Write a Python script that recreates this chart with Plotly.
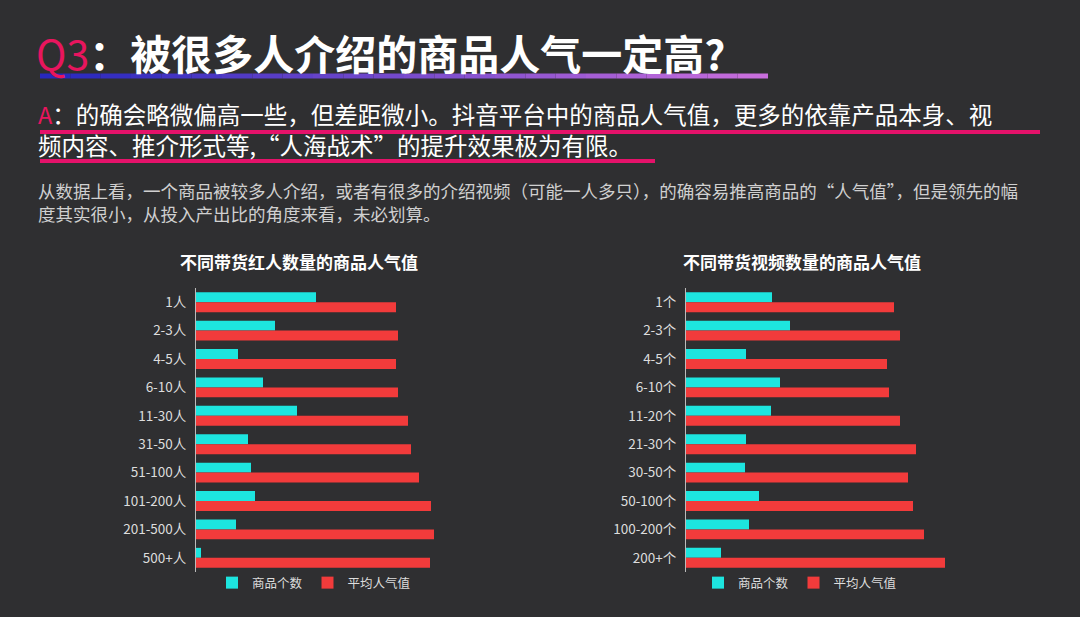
import plotly.graph_objects as go

FONT = "Noto Sans CJK SC"
BG = "#2f2f31"
CYAN = "#1de5df"
RED = "#f23b3b"

left_cats = ["1人", "2-3人", "4-5人", "6-10人", "11-30人", "31-50人",
             "51-100人", "101-200人", "201-500人", "500+人"]
left_count = [120, 79, 42, 67, 101, 52, 55, 59, 40, 5]
left_pop = [200, 202, 200, 202, 212, 215, 223, 235, 238, 234]

right_cats = ["1个", "2-3个", "4-5个", "6-10个", "11-20个", "21-30个",
              "30-50个", "50-100个", "100-200个", "200+个"]
right_count = [86, 104, 60, 94, 85, 60, 59, 73, 63, 35]
right_pop = [208, 214, 201, 203, 214, 230, 222, 227, 238, 259]

W, H = 1080, 617
fig = go.Figure()

def add_pair(cats, cnt, pop, xa, ya, leg):
    fig.add_trace(go.Bar(y=cats, x=cnt, orientation="h", marker=dict(color=CYAN, line_width=0),
                         name="商品个数", xaxis=xa, yaxis=ya, legend=leg))
    fig.add_trace(go.Bar(y=cats, x=pop, orientation="h", marker=dict(color=RED, line_width=0),
                         name="平均人气值", xaxis=xa, yaxis=ya, legend=leg))

add_pair(left_cats, left_count, left_pop, "x", "y", "legend")
add_pair(right_cats, right_count, right_pop, "x2", "y2", "legend2")

ydom = [1 - 572 / H, 1 - 288 / H]
tick = dict(color="#dddddd", size=13.5, family=FONT)
xcommon = dict(showgrid=False, showticklabels=False, zeroline=False, fixedrange=True)
ycommon = dict(autorange="reversed", showgrid=False, tickfont=tick, showline=True,
               linecolor="#bbbbbb", linewidth=1, ticks="", ticklabelstandoff=6, domain=ydom)

leg = dict(orientation="h", font=dict(color="#dddddd", size=12.5, family=FONT),
           bgcolor="rgba(0,0,0,0)", xanchor="left", yanchor="middle",
           y=1 - 583 / H, itemwidth=30, traceorder="normal")

fig.update_layout(
    width=W, height=H, paper_bgcolor=BG, plot_bgcolor=BG,
    margin=dict(l=0, r=0, t=0, b=0),
    barmode="group", bargap=0.3, bargroupgap=0,
    font=dict(family=FONT),
    xaxis=dict(domain=[196 / W, 456 / W], range=[0, 260], **xcommon),
    yaxis=dict(**ycommon),
    xaxis2=dict(domain=[686 / W, 948 / W], range=[0, 262], anchor="y2", **xcommon),
    yaxis2=dict(anchor="x2", **ycommon),
    legend=dict(x=212 / W, **leg),
    legend2=dict(x=698 / W, **leg),
)

# title underline gradient
c0, c1 = (40, 40, 190), (200, 110, 220)
n = 24
x0, x1 = 40, 768
for i in range(n):
    t = i / (n - 1)
    col = "rgb(%d,%d,%d)" % tuple(int(a + (b - a) * t) for a, b in zip(c0, c1))
    fig.add_shape(type="line", xref="paper", yref="paper",
                  x0=(x0 + (x1 - x0) * i / n) / W, x1=(x0 + (x1 - x0) * (i + 1) / n) / W,
                  y0=1 - 76 / H, y1=1 - 76 / H, line=dict(color=col, width=5))
for y, xe in [(132, 1040), (161, 655)]:
    fig.add_shape(type="line", xref="paper", yref="paper", x0=40 / W, x1=xe / W,
                  y0=1 - y / H, y1=1 - y / H, line=dict(color="#e5126a", width=4))

def txt(x, y, s, size, color="#ffffff", anchor="left"):
    fig.add_annotation(x=x / W, y=1 - y / H, xref="paper", yref="paper", text=s,
                       showarrow=False, xanchor=anchor, yanchor="middle", align="left",
                       font=dict(size=size, color=color, family=FONT))

txt(34, 52, "<span style='color:#e8155e'>Q3</span><b>：被很多人介绍的商品人气一定高?</b>", 41)
txt(36, 130, "<span style='color:#e8155e'>A</span>：的确会略微偏高一些，但差距微小。抖音平台中的商品人气值，更多的依靠产品本身、视"
    "<br>频内容、推介形式等,“人海战术”的提升效果极为有限。", 23.5)
txt(36, 202, "从数据上看，一个商品被较多人介绍，或者有很多的介绍视频（可能一人多只），的确容易推高商品的“人气值”，但是领先的幅"
    "<br>度其实很小，从投入产出比的角度来看，未必划算。", 17.5, "#d0d0d0")
txt(299, 262, "<b>不同带货红人数量的商品人气值</b>", 17, anchor="center")
txt(802, 262, "<b>不同带货视频数量的商品人气值</b>", 17, anchor="center")

fig.write_html("out.html", config={"displayModeBar": False},
               post_script="document.body.style.margin='0';")
